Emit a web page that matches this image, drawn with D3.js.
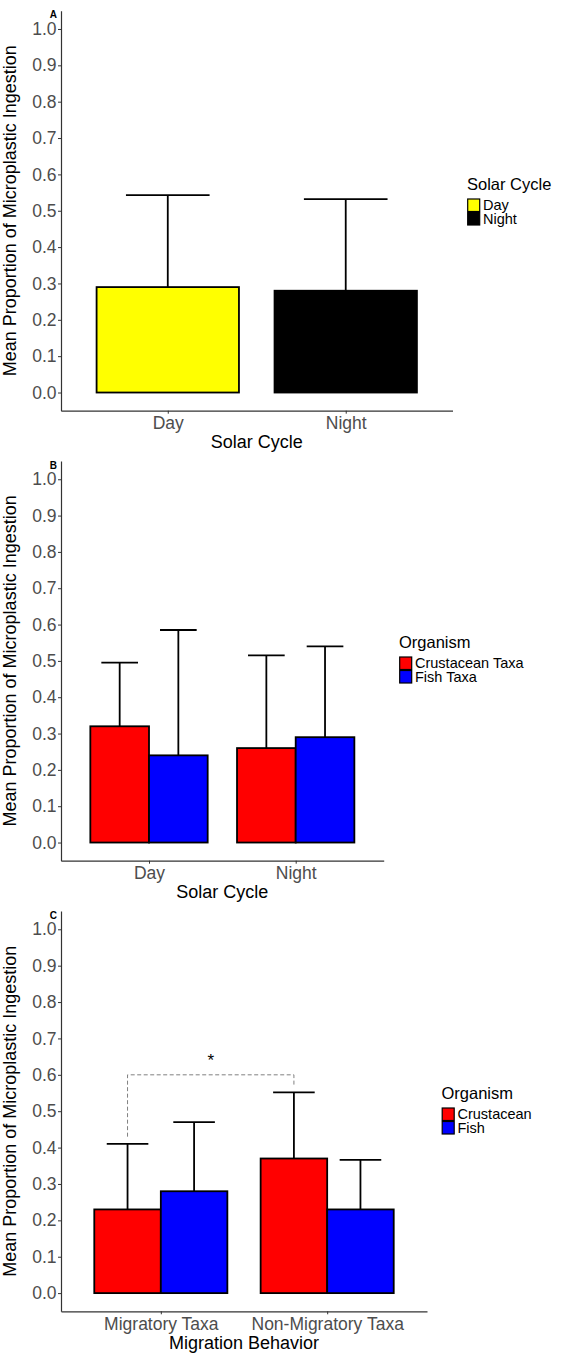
<!DOCTYPE html>
<html>
<head>
<meta charset="utf-8">
<script src="https://cdn.jsdelivr.net/npm/d3@7"></script>
<style>
  body { margin: 0; background: #fff; }
  svg { display: block; font-family: "Liberation Sans", Arial, sans-serif; }
</style>
</head>
<body>
<div id="chart"></div>
<script>
//////// DATA ////////
var yTicks = [0, 0.1, 0.2, 0.3, 0.4, 0.5, 0.6, 0.7, 0.8, 0.9, 1.0];

// panel A
var solarCats = ["Day", "Night"];
var solarMeans = [0.29, 0.28];
var solarUpper = [0.543, 0.532];

// panel B
var taxaCats = ["Day", "Night"];
var taxaGroups = ["Crustacean Taxa", "Fish Taxa"];
var taxaCrustMeans = [0.32, 0.26];
var taxaFishMeans = [0.24, 0.29];
var taxaCrustUpper = [0.495, 0.515];
var taxaFishUpper = [0.585, 0.54];

// panel C
var migCats = ["Migratory Taxa", "Non-Migratory Taxa"];
var migGroups = ["Crustacean", "Fish"];
var migCrustMeans = [0.23, 0.37];
var migFishMeans = [0.28, 0.23];
var migCrustUpper = [0.41, 0.552];
var migFishUpper = [0.47, 0.366];

// significance bracket in panel C (crustacean vs crustacean)
var sigCats = ["Migratory Taxa", "Non-Migratory Taxa"];
var sigGroup = "Crustacean";
var sigTop = 0.6;
var sigLegs = [0.43, 0.57];
var sigLabel = "*";

function rowsFor(cats, groups, meanSets, upperSets) {
    var rows = [];
    cats.forEach(function(c, i) {
        groups.forEach(function(gr, j) {
            rows.push({cat: c, grp: gr, mean: meanSets[j][i], upper: upperSets[j][i]});
        });
    });
    return rows;
}

//////// CANVAS ////////
var svg = d3.select("#chart").append("svg")
    .attr("width", 561)
    .attr("height", 1353);

var tickGrey = "#4d4d4d";

function drawPanel(o) {
    var g = svg.append("g");

    var x = d3.scalePoint().domain(o.cats).range([o.left, o.right]).padding(0.6);
    var y = d3.scaleLinear().domain([-0.05, 1.05]).range([o.bottom, o.top]);
    var bw = x.step() * 0.8;
    var x1 = d3.scaleBand().domain(o.dodge ? o.groups : ["one"]).range([-bw / 2, bw / 2]);
    var color = d3.scaleOrdinal().domain(o.groups).range(o.colors);
    var capW = x.step() * o.cap;

    function cx(d) { return x(d.cat) + x1(o.dodge ? d.grp : "one") + x1.bandwidth() / 2; }

    // BARS
    g.append("g").selectAll("rect")
        .data(o.rows)
        .enter().append("rect")
            .attr("x", function(d) { return x(d.cat) + x1(o.dodge ? d.grp : "one"); })
            .attr("y", function(d) { return y(d.mean); })
            .attr("width", x1.bandwidth())
            .attr("height", function(d) { return y(0) - y(d.mean); })
            .attr("fill", function(d) { return color(d.grp); })
            .attr("stroke", "#000")
            .attr("stroke-width", 1.8);

    // ERROR BARS (upper only)
    var eb = g.append("g").attr("stroke", "#000").attr("stroke-width", 1.8).selectAll("g")
        .data(o.rows)
        .enter().append("g");
    eb.append("line")
        .attr("x1", cx).attr("x2", cx)
        .attr("y1", function(d) { return y(d.mean); })
        .attr("y2", function(d) { return y(d.upper); });
    eb.append("line")
        .attr("x1", function(d) { return cx(d) - capW / 2; })
        .attr("x2", function(d) { return cx(d) + capW / 2; })
        .attr("y1", function(d) { return y(d.upper); })
        .attr("y2", function(d) { return y(d.upper); });

    // AXES
    var ya = g.append("g")
        .attr("transform", "translate(" + o.left + ",0)")
        .call(d3.axisLeft(y).tickValues(yTicks).tickSize(3).tickSizeOuter(0).tickPadding(1.5).tickFormat(d3.format(".1f")));
    var xa = g.append("g")
        .attr("transform", "translate(0," + o.bottom + ")")
        .call(d3.axisBottom(x).tickSize(3).tickSizeOuter(0).tickPadding(3));
    [ya, xa].forEach(function(a) {
        a.select(".domain").attr("stroke", "#333").attr("stroke-width", 1.2);
        a.selectAll(".tick line").attr("stroke", "#333").attr("stroke-width", 1);
        a.selectAll(".tick text").attr("fill", tickGrey).attr("font-size", 17.5).attr("font-family", null);
    });

    // axis titles
    g.append("text")
        .attr("x", (o.left + o.right) / 2)
        .attr("y", o.bottom + 37.5)
        .attr("text-anchor", "middle")
        .attr("font-size", 18)
        .text(o.xTitle);
    g.append("text")
        .attr("transform", "translate(16," + (o.top + o.bottom) / 2 + ") rotate(-90)")
        .attr("text-anchor", "middle")
        .attr("font-size", 18)
        .text("Mean Proportion of Microplastic Ingestion");

    // tag
    g.append("text")
        .attr("x", 57)
        .attr("y", o.top + 7.5)
        .attr("text-anchor", "end")
        .attr("font-size", 10)
        .attr("font-weight", "bold")
        .text(o.tag);

    // LEGEND
    var lg = g.append("g").attr("transform", "translate(" + o.legendX + "," + o.legendY + ")");
    lg.append("text")
        .attr("font-size", 16.5)
        .text(o.legendTitle);
    var item = lg.selectAll("g.lgd")
        .data(o.groups)
        .enter().append("g")
            .attr("class", "lgd")
            .attr("transform", function(d, i) { return "translate(0," + (9 + i * 13.5) + ")"; });
    item.append("rect")
        .attr("x", 0.7)
        .attr("width", 12)
        .attr("height", 12.5)
        .attr("fill", color)
        .attr("stroke", "#000")
        .attr("stroke-width", 1.2);
    item.append("text")
        .attr("x", 16)
        .attr("y", 11)
        .attr("font-size", 14.5)
        .text(function(d) { return d; });

    return {g: g, x: x, y: y, x1: x1};
}

//////// PANEL A ////////
drawPanel({
    tag: "A",
    cats: solarCats,
    groups: solarCats,
    colors: ["#ffff00", "#000000"],
    dodge: false,
    rows: solarCats.map(function(c, i) { return {cat: c, grp: c, mean: solarMeans[i], upper: solarUpper[i]}; }),
    left: 61, right: 452.5, top: 10.8, bottom: 410.7,
    cap: 0.47,
    xTitle: "Solar Cycle",
    legendTitle: "Solar Cycle",
    legendX: 467, legendY: 190
});

//////// PANEL B ////////
drawPanel({
    tag: "B",
    cats: taxaCats,
    groups: taxaGroups,
    colors: ["#ff0000", "#0000ff"],
    dodge: true,
    rows: rowsFor(taxaCats, taxaGroups, [taxaCrustMeans, taxaFishMeans], [taxaCrustUpper, taxaFishUpper]),
    left: 61, right: 383.7, top: 461.1, bottom: 860.7,
    cap: 0.25,
    xTitle: "Solar Cycle",
    legendTitle: "Organism",
    legendX: 399, legendY: 648
});

//////// PANEL C ////////
var pc = drawPanel({
    tag: "C",
    cats: migCats,
    groups: migGroups,
    colors: ["#ff0000", "#0000ff"],
    dodge: true,
    rows: rowsFor(migCats, migGroups, [migCrustMeans, migFishMeans], [migCrustUpper, migFishUpper]),
    left: 61, right: 427, top: 911.1, bottom: 1311.3,
    cap: 0.25,
    xTitle: "Migration Behavior",
    legendTitle: "Organism",
    legendX: 441.5, legendY: 1099
});

// significance bracket
var sx = sigCats.map(function(c) { return pc.x(c) + pc.x1(sigGroup) + pc.x1.bandwidth() / 2; });
pc.g.append("path")
    .attr("d", "M" + sx[0] + "," + pc.y(sigLegs[0]) + "V" + pc.y(sigTop) + "H" + sx[1] + "V" + pc.y(sigLegs[1]))
    .attr("fill", "none")
    .attr("stroke", "#808080")
    .attr("stroke-width", 1)
    .attr("stroke-dasharray", "4,2.5");
pc.g.append("text")
    .attr("x", (sx[0] + sx[1]) / 2)
    .attr("y", pc.y(sigTop) - 9)
    .attr("text-anchor", "middle")
    .attr("font-size", 17)
    .text(sigLabel);
</script>
</body>
</html>
